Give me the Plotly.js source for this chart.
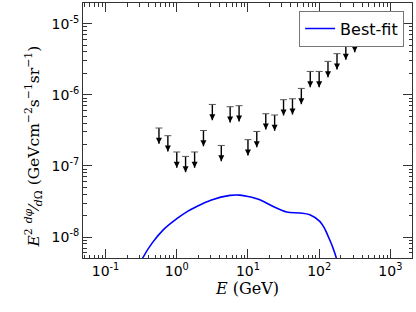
<!DOCTYPE html>
<html>
<head>
<meta charset="utf-8">
<script src="https://cdn.plot.ly/plotly-3.0.1.min.js"></script>
<style>html,body{margin:0;padding:0;background:#fff;}#chart{width:416px;height:312px;}</style>
</head>
<body>
<div id="chart"></div>
<script>
// Upper-limit bins (GeV) and E^2 dphi/dOmega upper limits
const limitEnergy = [0.562, 0.75, 1.0, 1.33, 1.78, 2.37, 3.16, 4.22, 5.62, 7.5, 10, 13.3, 17.8, 23.7, 31.6, 42.2, 56.2, 75, 100, 133, 178, 237, 316, 422];
const limitValue = [3.41e-7, 2.66e-7, 1.57e-7, 1.36e-7, 1.57e-7, 3.15e-7, 7.32e-7, 1.94e-7, 6.8e-7, 7.03e-7, 2.34e-7, 3.05e-7, 5.42e-7, 5.2e-7, 8.53e-7, 8.8e-7, 1.23e-6, 2.13e-6, 2.13e-6, 2.95e-6, 3.79e-6, 5.18e-6, 6.6e-6, 1.0e-5];
// Best-fit spectrum
const fitEnergy = [0.25, 0.33, 0.45, 0.65, 1.0, 1.4, 1.91, 3.0, 5.6, 7.7, 10, 14.7, 22.6, 34.9, 53.6, 74, 102, 120, 134, 155, 175, 200];
const fitValue = [2.6e-9, 5.0e-9, 8.2e-9, 1.27e-8, 1.81e-8, 2.28e-8, 2.69e-8, 3.3e-8, 3.85e-8, 3.88e-8, 3.72e-8, 3.35e-8, 2.69e-8, 2.25e-8, 2.18e-8, 2.06e-8, 1.66e-8, 1.3e-8, 1.02e-8, 7.2e-9, 5.0e-9, 2.8e-9];
// Tick values and labels
const xTickVals = [0.1, 1, 10, 100, 1000];
const xTickText = ['10<sup>-1</sup>', '10<sup>0</sup>', '10<sup>1</sup>', '10<sup>2</sup>', '10<sup>3</sup>'];
const yTickVals = [1e-8, 1e-7, 1e-6, 1e-5];
const yTickText = ['10<sup>-8</sup>', '10<sup>-7</sup>', '10<sup>-6</sup>', '10<sup>-5</sup>'];
const yTitle = '<i>E</i><sup>2</sup> <sup><i>dφ</i></sup>⁄<sub><i>d</i>Ω</sub> (GeVcm<sup>−2</sup>s<sup>−1</sup>sr<sup>−1</sup>)';
const arrowFactor = 0.6;

const stemX = [], stemY = [];
limitEnergy.forEach((e, i) => { stemX.push(e, e, null); stemY.push(limitValue[i], limitValue[i] * arrowFactor, null); });
const headY = limitValue.map(v => v * arrowFactor);

const traces = [
  {x: fitEnergy, y: fitValue, mode: 'lines', name: 'Best-fit', line: {color: '#0000ff', width: 1.6, shape: 'spline', smoothing: 1}},
  {x: stemX, y: stemY, mode: 'lines', line: {color: '#000', width: 1.4}, showlegend: false, hoverinfo: 'skip'},
  {x: limitEnergy, y: limitValue, mode: 'markers', marker: {symbol: 'line-ew', size: 5, line: {color: '#555', width: 1}}, showlegend: false},
  {x: limitEnergy, y: headY, mode: 'markers', marker: {symbol: 'arrow-down', size: 6, color: '#000', line: {width: 0}}, showlegend: false}
];

const axisCommon = {
  type: 'log', showgrid: false, zeroline: false, showline: true, linecolor: '#333', linewidth: 1,
  mirror: 'ticks', ticks: 'inside', ticklen: 9, tickwidth: 1, tickcolor: '#333',
  tickmode: 'array',
  tickfont: {family: 'DejaVu Sans', size: 14, color: '#000'},
  minor: {ticks: 'inside', ticklen: 3.5, tickwidth: 1, tickcolor: '#333', dtick: 'D1', showgrid: false}
};

const layout = {
  width: 416, height: 312,
  margin: {l: 83, r: 4, t: 3, b: 54},
  paper_bgcolor: '#fff', plot_bgcolor: '#fff',
  showlegend: true,
  legend: {x: 0.976, y: 0.97, xanchor: 'right', yanchor: 'top', bgcolor: '#fff', bordercolor: '#777', borderwidth: 1,
           font: {family: 'DejaVu Sans', size: 16, color: '#000'}},
  xaxis: Object.assign({}, axisCommon, {range: [-1.317, 3.304], tickvals: xTickVals, ticktext: xTickText,
    title: {text: '<i>E</i> (GeV)', font: {family: 'DejaVu Serif', size: 16, color: '#000'}, standoff: 4}}),
  yaxis: Object.assign({}, axisCommon, {range: [-8.295, -4.709], tickvals: yTickVals, ticktext: yTickText}),
  annotations: [{
    text: yTitle, xref: 'paper', yref: 'paper', x: 0, y: 0.5, xshift: -49, yshift: -16,
    xanchor: 'center', yanchor: 'middle', textangle: -90, showarrow: false,
    font: {family: 'DejaVu Serif', size: 15.5, color: '#000'}
  }]
};

Plotly.newPlot('chart', traces, layout, {displayModeBar: false, staticPlot: true});
</script>
</body>
</html>
